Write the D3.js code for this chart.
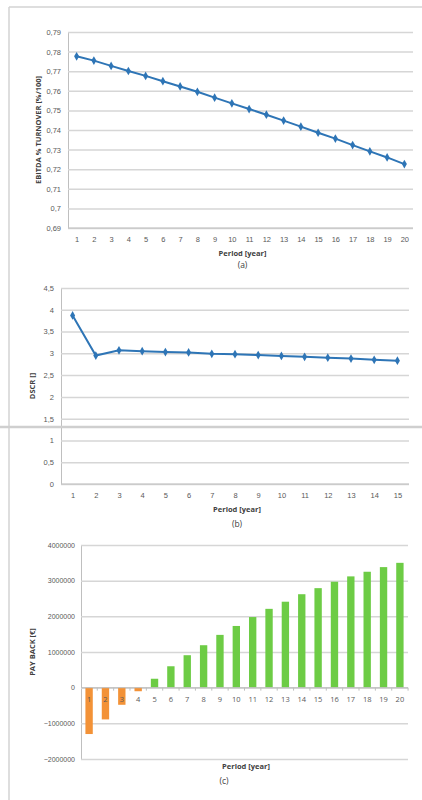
<!DOCTYPE html>
<html lang="en">
<head>
<meta charset="UTF-8" />
<title>EBITDA, DSCR and pay back</title>
<script src="https://d3js.org/d3.v7.min.js"></script>
<style>
  body { margin: 0; background: #fff; }
  svg { display: block; font-family: "Open Sans", "Noto Sans", sans-serif; }
  .tick text { fill: #595959; font-size: 7.5px; }
  .title { fill: #404040; font-size: 7.5px; font-weight: bold; }
  .caption { fill: #404040; font-size: 8.5px; }
</style>
</head>
<body>
<svg id="chart" width="422" height="800"></svg>
<script>
// (a) EBITDA % turnover, years 1-20
const ebitdaYears = d3.range(1, 21);
const ebitdaValues = [0.7776, 0.7754, 0.7727, 0.7701, 0.7676, 0.7649, 0.7622, 0.7595, 0.7565, 0.7536,
  0.7507, 0.7478, 0.7448, 0.7417, 0.7386, 0.7356, 0.7323, 0.7291, 0.7260, 0.7226];
const ebitdaTicks = [0.69, 0.70, 0.71, 0.72, 0.73, 0.74, 0.75, 0.76, 0.77, 0.78, 0.79];

// (b) DSCR, years 1-15
const dscrYears = d3.range(1, 16);
const dscrValues = [3.87, 2.95, 3.07, 3.05, 3.03, 3.02, 2.99, 2.98, 2.96, 2.94, 2.92, 2.90, 2.88, 2.85, 2.83];
const dscrTicks = [0, 0.5, 1, 1.5, 2, 2.5, 3, 3.5, 4, 4.5];

// (c) pay back, years 1-20
const paybackYears = d3.range(1, 21);
const paybackValues = [-1300000, -890000, -480000, -100000, 250000, 600000, 910000, 1190000, 1480000, 1730000,
  1980000, 2210000, 2410000, 2620000, 2790000, 2970000, 3120000, 3250000, 3380000, 3500000];
const paybackTicks = [-2000000, -1000000, 0, 1000000, 2000000, 3000000, 4000000];

const lineColor = "#2e75b6";
const gridColor = "#d6d6d6";
const axisColor = "#bfbfbf";
const comma = v => String(+v.toFixed(2)).replace(".", ",");

const svg = d3.select("#chart");

// page frame
svg.append("line").attr("x1", 9).attr("x2", 422).attr("y1", 7).attr("y2", 7)
  .attr("stroke", "#d3d3d3").attr("stroke-width", 1.5);
svg.append("line").attr("x1", 9).attr("x2", 9).attr("y1", 7).attr("y2", 800)
  .attr("stroke", "#d3d3d3").attr("stroke-width", 1.5);

function lineChart(opt) {
  const g = svg.append("g");
  const x = d3.scalePoint().domain(opt.years).range([opt.left, opt.right]).padding(0.5);
  const y = d3.scaleLinear().domain(opt.domain).range([opt.bottom, opt.top]);

  const yAxis = g.append("g").attr("transform", `translate(${opt.left},0)`)
    .call(d3.axisLeft(y).tickValues(opt.ticks).tickFormat(comma).tickSize(-(opt.right - opt.left)).tickPadding(7));
  yAxis.select(".domain").attr("stroke", axisColor);
  yAxis.selectAll(".tick line").attr("stroke", gridColor).attr("stroke-width", 1.5);

  const xAxis = g.append("g").attr("transform", `translate(0,${opt.bottom})`)
    .call(d3.axisBottom(x).tickSize(0).tickPadding(9));
  xAxis.select(".domain").remove();

  g.append("line").attr("x1", opt.left).attr("x2", opt.right)
    .attr("y1", opt.bottom).attr("y2", opt.bottom).attr("stroke", axisColor);

  g.append("path").datum(opt.values)
    .attr("fill", "none").attr("stroke", lineColor).attr("stroke-width", 2)
    .attr("d", d3.line().x((d, i) => x(opt.years[i])).y(d => y(d)));

  g.selectAll(".mark").data(opt.values).join("path")
    .attr("class", "mark")
    .attr("transform", (d, i) => `translate(${x(opt.years[i])},${y(d)})`)
    .attr("d", d3.symbol(d3.symbolDiamond, 22))
    .attr("fill", lineColor);

  g.append("text").attr("class", "title")
    .attr("transform", `translate(${opt.labelX},${(opt.top + opt.bottom) / 2}) rotate(-90)`)
    .attr("text-anchor", "middle").text(opt.yTitle);
  g.append("text").attr("class", "title").attr("x", (opt.left + opt.right) / 2 + 2).attr("y", opt.xTitleY)
    .attr("text-anchor", "middle").text("Period [year]");
  g.append("text").attr("class", "caption").attr("x", (opt.left + opt.right) / 2 + 2).attr("y", opt.captionY)
    .attr("text-anchor", "middle").text(opt.caption);
}

lineChart({
  years: ebitdaYears, values: ebitdaValues, ticks: ebitdaTicks, domain: [0.69, 0.79],
  left: 68, right: 413, top: 32, bottom: 228, labelX: 41,
  yTitle: "EBITDA % TURNOVER [%/100]", xTitleY: 256, captionY: 268, caption: "(a)"
});

lineChart({
  years: dscrYears, values: dscrValues, ticks: dscrTicks, domain: [0, 4.5],
  left: 61, right: 409, top: 288, bottom: 484, labelX: 35,
  yTitle: "DSCR []", xTitleY: 512, captionY: 527, caption: "(b)"
});

// separator across chart (b)
svg.append("line").attr("x1", 0).attr("x2", 422).attr("y1", 427).attr("y2", 427)
  .attr("stroke", "#cfcfcf").attr("stroke-width", 2.5);

// (c) bar chart
{
  const left = 81, right = 408, top = 545, bottom = 759;
  const g = svg.append("g");
  const x = d3.scaleBand().domain(paybackYears).range([left, right]).paddingInner(0.55).paddingOuter(0.27);
  const y = d3.scaleLinear().domain([-2000000, 4000000]).range([bottom, top]);

  const yAxis = g.append("g").attr("transform", `translate(${left},0)`)
    .call(d3.axisLeft(y).tickValues(paybackTicks).tickFormat(d3.format("d")).tickSize(-(right - left)).tickPadding(6));
  yAxis.select(".domain").attr("stroke", axisColor);
  yAxis.selectAll(".tick line").attr("stroke", gridColor).attr("stroke-width", 1.5);
  yAxis.selectAll(".tick text").style("font-size", "7px");

  g.selectAll(".bar").data(paybackValues).join("rect")
    .attr("class", "bar")
    .attr("x", (d, i) => x(paybackYears[i]))
    .attr("width", x.bandwidth())
    .attr("y", d => y(Math.max(0, d)))
    .attr("height", d => Math.abs(y(d) - y(0)))
    .attr("fill", d => d < 0 ? "#f39237" : "#6dcc45");

  // zero axis with ticks between categories
  const step = x.step();
  g.append("line").attr("x1", left).attr("x2", right).attr("y1", y(0)).attr("y2", y(0))
    .attr("stroke", axisColor);
  g.selectAll(".sep").data(paybackYears).join("line")
    .attr("x1", (d) => x(d) + x.bandwidth() / 2 + step / 2).attr("x2", (d) => x(d) + x.bandwidth() / 2 + step / 2)
    .attr("y1", y(0)).attr("y2", y(0) + 3).attr("stroke", axisColor);

  g.selectAll(".xlab").data(paybackYears).join("text")
    .attr("x", d => x(d) + x.bandwidth() / 2).attr("y", y(0) + 14)
    .attr("text-anchor", "middle").attr("fill", "#595959").style("font-size", "7.5px")
    .text(d => d);

  g.append("text").attr("class", "title")
    .attr("transform", `translate(35,${(top + bottom) / 2}) rotate(-90)`)
    .attr("text-anchor", "middle").text("PAY BACK [€]");
  g.append("text").attr("class", "title").attr("x", 246).attr("y", 769)
    .attr("text-anchor", "middle").text("Period [year]");
  g.append("text").attr("class", "caption").attr("x", 224).attr("y", 784)
    .attr("text-anchor", "middle").text("(c)");
}
</script>
</body>
</html>
